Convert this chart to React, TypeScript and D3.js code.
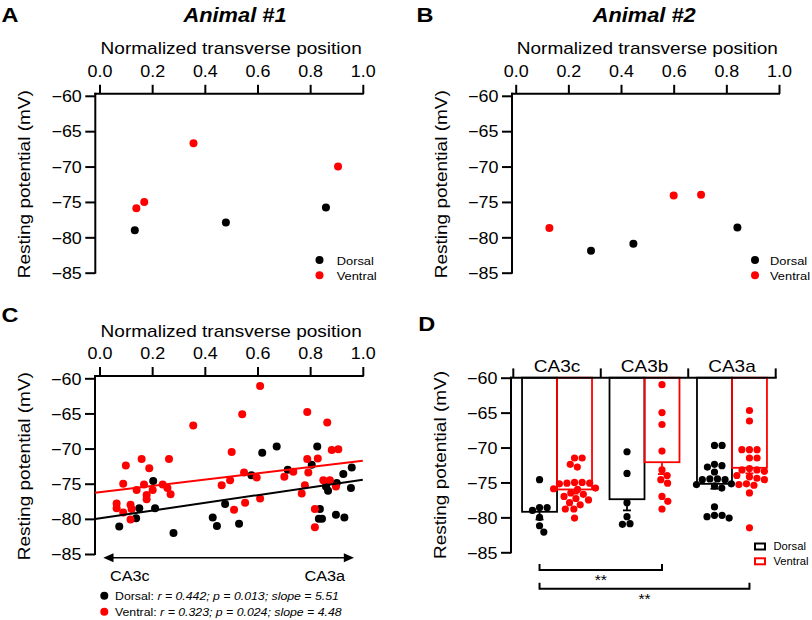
import { useEffect, useRef } from "react";
import * as d3 from "d3";

type Pt = [number, number];

const FONT = "'Liberation Sans', Arial, Helvetica, sans-serif";
const SX = 1.12; // reference glyphs are a bit wider than Arial
const RED = "#ff0000";
const BLACK = "#000000";

const xTicks = [0, 0.2, 0.4, 0.6, 0.8, 1.0];
const yTicks = [-60, -65, -70, -75, -80, -85];

// A / B: single animals
const animal1Dorsal: Pt[] = [[0.134, -79.0], [0.48, -77.9], [0.86, -75.8]];
const animal1Ventral: Pt[] = [[0.14, -75.9], [0.17, -75.0], [0.357, -66.7], [0.906, -70.0]];
const animal2Dorsal: Pt[] = [[0.286, -81.9], [0.447, -80.9], [0.842, -78.6]];
const animal2Ventral: Pt[] = [[0.128, -78.7], [0.6, -74.1], [0.704, -74.0]];

// C: pooled cells
const pooledDorsal: Pt[] = [
  [0.075, -81.1], [0.139, -79.9], [0.151, -78.5], [0.204, -74.6], [0.211, -78.5],
  [0.281, -82.0], [0.43, -79.8], [0.446, -81.0], [0.477, -77.9], [0.53, -80.7],
  [0.577, -73.8], [0.618, -70.6], [0.673, -69.7], [0.715, -73.0], [0.806, -72.3],
  [0.827, -69.7], [0.837, -78.6], [0.833, -80.0], [0.845, -80.0], [0.86, -75.4],
  [0.868, -76.0], [0.901, -74.9], [0.898, -79.4], [0.93, -79.8], [0.926, -73.6],
  [0.958, -72.7], [0.955, -75.6],
];
const pooledVentral: Pt[] = [
  [0.065, -77.8], [0.065, -78.5], [0.09, -79.1], [0.118, -78.0], [0.122, -78.6],
  [0.118, -80.1], [0.1, -72.4], [0.09, -75.0], [0.141, -75.9], [0.16, -71.5],
  [0.169, -75.1], [0.179, -76.6], [0.179, -77.2], [0.189, -72.8], [0.202, -75.9],
  [0.24, -75.1], [0.258, -75.6], [0.264, -71.5], [0.27, -76.5], [0.356, -66.7],
  [0.464, -75.2], [0.496, -74.5], [0.502, -70.5], [0.511, -78.7], [0.542, -65.1],
  [0.549, -73.4], [0.553, -77.7], [0.597, -74.1], [0.61, -61.1], [0.61, -77.1],
  [0.702, -74.0], [0.736, -73.3], [0.768, -76.4], [0.78, -75.2], [0.789, -64.8],
  [0.789, -71.5], [0.793, -73.4], [0.829, -71.4], [0.818, -78.6], [0.818, -81.2],
  [0.865, -66.3], [0.85, -74.5], [0.875, -74.5], [0.882, -70.2], [0.907, -70.1],
  [0.898, -75.4],
];
const dorsalSlope = 5.51;
const dorsalIntercept = -79.93;
const ventralSlope = 4.48;
const ventralIntercept = -76.2;
const dorsalStats = "r = 0.442; p = 0.013; slope = 5.51";
const ventralStats = "r = 0.323; p = 0.024; slope = 4.48";

// D: by region
const regions = ["CA3c", "CA3b", "CA3a"];
const groups = ["Dorsal", "Ventral"];
const dorsalMean = [-79.2, -77.4, -75.2];
const dorsalSem = [1.1, 1.6, 0.7];
const ventralMean = [-76.0, -72.1, -72.9];
const ventralSem = [0.6, 1.7, 0.8];
const dorsalCells = [
  [-74.6, -79.0, -78.6, -78.6, -80.0, -81.2, -82.1],
  [-70.6, -73.7, -77.9, -79.9, -81.0, -80.9],
  [-69.7, -69.7, -72.4, -72.6, -72.8, -73.5, -74.5, -74.5, -74.6, -74.6, -75.2, -75.3,
    -75.5, -75.8, -78.5, -79.7, -79.7, -79.9, -80.1],
];
const ventralCells = [
  [-71.5, -71.5, -72.4, -72.8, -75.0, -75.0, -75.1, -75.1, -75.2, -75.8, -75.9, -76.0,
    -76.5, -76.7, -77.0, -77.3, -77.5, -77.9, -78.2, -78.8, -78.8, -80.1],
  [-61.0, -65.0, -66.7, -70.5, -73.2, -74.0, -74.6, -75.1, -77.0, -77.7, -78.8],
  [-64.7, -66.2, -70.3, -70.3, -70.3, -71.5, -71.5, -73.0, -73.2, -73.2, -73.4, -74.0,
    -74.2, -74.4, -74.6, -75.2, -75.3, -75.4, -76.5, -81.5],
];
const sigFrom = [["CA3c", "Dorsal"], ["CA3c", "Dorsal"]];
const sigTo = [["CA3b", "Ventral"], ["CA3a", "Ventral"]];
const sigLabels = ["**", "**"];

type Sel = d3.Selection<any, unknown, null, undefined>;

function addText(
  g: Sel,
  x: number,
  y: number,
  str: string,
  size: number,
  opts: { anchor?: string; weight?: string; italic?: boolean; rotate?: boolean; sx?: number } = {}
) {
  return g
    .append("text")
    .attr(
      "transform",
      `translate(${x},${y})${opts.rotate ? " rotate(-90)" : ""} scale(${opts.sx ?? SX},1)`
    )
    .attr("font-family", FONT)
    .attr("font-size", size)
    .attr("font-weight", opts.weight ?? "normal")
    .attr("font-style", opts.italic ? "italic" : "normal")
    .attr("text-anchor", opts.anchor ?? "start")
    .attr("fill", BLACK)
    .text(str);
}

function yAxis(g: Sel, ys: d3.ScaleLinear<number, number>, axisX: number, axisTop: number) {
  const ax = g
    .append("g")
    .attr("transform", `translate(${axisX},0)`)
    .call(d3.axisLeft(ys).tickValues(yTicks).tickSize(10).tickSizeOuter(0));
  ax.select(".domain").remove();
  ax.selectAll(".tick line").attr("stroke-width", 2);
  ax.selectAll(".tick text")
    .attr("x", null)
    .attr("dy", "0.36em")
    .attr("transform", `translate(-13.5,0) scale(${SX},1)`)
    .attr("font-size", 16)
    .attr("font-family", FONT);
  ax.append("line")
    .attr("x1", 0)
    .attr("x2", 0)
    .attr("y1", axisTop)
    .attr("y2", ys(-85))
    .attr("stroke", BLACK)
    .attr("stroke-width", 2)
    .attr("stroke-linecap", "square");
  addText(g, axisX - 65, (ys(-60) + ys(-85)) / 2, "Resting potential (mV)", 17, {
    anchor: "middle",
    rotate: true,
  });
}

function scatterPanel(
  svg: Sel,
  cfg: {
    xRange: [number, number];
    yRange: [number, number];
    axisX: number;
    axisY: number;
    series: { pts: Pt[]; color: string }[];
  }
) {
  const g = svg.append("g");
  const xs = d3.scaleLinear().domain([0, 1]).range(cfg.xRange);
  const ys = d3.scaleLinear().domain([-60, -85]).range(cfg.yRange);

  const xa = g
    .append("g")
    .attr("transform", `translate(0,${cfg.axisY})`)
    .call(
      d3.axisTop(xs).tickValues(xTicks).tickSize(9).tickPadding(8).tickFormat(d3.format(".1f"))
    );
  xa.select(".domain").remove();
  xa.selectAll(".tick line").attr("stroke-width", 2);
  xa.selectAll(".tick text")
    .attr("transform", `scale(${SX},1)`)
    .attr("font-size", 16)
    .attr("font-family", FONT);
  xa.append("line")
    .attr("x1", cfg.axisX)
    .attr("x2", xs(1))
    .attr("stroke", BLACK)
    .attr("stroke-width", 2)
    .attr("stroke-linecap", "square");
  addText(g, (cfg.xRange[0] + cfg.xRange[1]) / 2, cfg.axisY - 39.5, "Normalized transverse position", 17, {
    anchor: "middle",
  });

  yAxis(g, ys, cfg.axisX, cfg.axisY);

  const dots = g.append("g");
  cfg.series.forEach((s) => {
    dots
      .selectAll(null)
      .data(s.pts)
      .join("circle")
      .attr("cx", (d) => xs(d[0]))
      .attr("cy", (d) => ys(d[1]))
      .attr("r", 4)
      .attr("fill", s.color);
  });
  return { g, xs, ys };
}

function dotLegend(g: Sel, x: number, y: number, textX: number, size: number) {
  [BLACK, RED].forEach((c, i) => {
    g.append("circle").attr("cx", x).attr("cy", y + i * 15.3).attr("r", 4).attr("fill", c);
    addText(g, textX, y + i * 15.3 + 4.5, groups[i], size);
  });
}

function swarm(values: number[], cx: number, ys: d3.ScaleLinear<number, number>, r: number) {
  const D = 2 * r + 0.4;
  const placed: { x: number; y: number }[] = [];
  [...values]
    .sort((a, b) => b - a)
    .forEach((v) => {
      const y = ys(v);
      const near = placed.filter((p) => Math.abs(p.y - y) < D);
      const cands = [0];
      near.forEach((p) => {
        const dx = Math.sqrt(D * D - (p.y - y) ** 2);
        cands.push(p.x - cx + dx, p.x - cx - dx);
      });
      cands.sort((a, b) => Math.abs(a) - Math.abs(b) || b - a);
      const off =
        cands.find((c) => near.every((p) => (p.x - cx - c) ** 2 + (p.y - y) ** 2 >= D * D - 0.01)) ?? 0;
      placed.push({ x: cx + off, y });
    });
  return placed;
}

export default function App() {
  const ref = useRef<SVGSVGElement>(null);

  useEffect(() => {
    if (!ref.current) return;
    const svg = d3.select(ref.current);
    svg.selectAll("*").remove();
    svg.append("rect").attr("width", 812).attr("height", 620).attr("fill", "#fff");

    // ---- A
    const a = scatterPanel(svg, {
      xRange: [99.5, 362.8],
      yRange: [95.8, 272.7],
      axisX: 95.3,
      axisY: 93.8,
      series: [
        { pts: animal1Dorsal, color: BLACK },
        { pts: animal1Ventral, color: RED },
      ],
    });
    addText(a.g, 1.5, 21.7, "A", 21, { weight: "bold" });
    addText(a.g, 235, 21.7, "Animal #1", 19.5, { weight: "bold", italic: true, anchor: "middle" });
    dotLegend(a.g, 319.5, 260, 336.7, 11.5);

    // ---- B
    const b = scatterPanel(svg, {
      xRange: [515.7, 779],
      yRange: [95.8, 272.7],
      axisX: 512,
      axisY: 93.8,
      series: [
        { pts: animal2Dorsal, color: BLACK },
        { pts: animal2Ventral, color: RED },
      ],
    });
    addText(b.g, 416.5, 21.7, "B", 21, { weight: "bold" });
    addText(b.g, 644.2, 21.7, "Animal #2", 19.5, { weight: "bold", italic: true, anchor: "middle" });
    dotLegend(b.g, 755, 260, 770, 11.5);

    // ---- C
    const c = scatterPanel(svg, {
      xRange: [99.5, 362.8],
      yRange: [378.3, 554],
      axisX: 95,
      axisY: 376,
      series: [
        { pts: pooledDorsal, color: BLACK },
        { pts: pooledVentral, color: RED },
      ],
    });
    addText(c.g, 1.5, 321.7, "C", 21, { weight: "bold" });
    const x0 = c.xs.invert(95);
    [
      { slope: ventralSlope, intercept: ventralIntercept, color: RED },
      { slope: dorsalSlope, intercept: dorsalIntercept, color: BLACK },
    ].forEach((f) => {
      c.g
        .append("line")
        .attr("x1", c.xs(x0))
        .attr("y1", c.ys(f.intercept + f.slope * x0))
        .attr("x2", c.xs(1))
        .attr("y2", c.ys(f.intercept + f.slope))
        .attr("stroke", f.color)
        .attr("stroke-width", 2);
    });
    // double-headed arrow
    const ay = 557.7;
    c.g.append("line").attr("x1", 108).attr("x2", 349).attr("y1", ay).attr("y2", ay)
      .attr("stroke", BLACK).attr("stroke-width", 1.6);
    c.g.append("path").attr("d", `M103.3,${ay} L113.5,${ay - 4.5} L113.5,${ay + 4.5} Z`).attr("fill", BLACK);
    c.g.append("path").attr("d", `M354,${ay} L343.8,${ay - 4.5} L343.8,${ay + 4.5} Z`).attr("fill", BLACK);
    addText(c.g, 110, 581, "CA3c", 14.5);
    addText(c.g, 345, 581, "CA3a", 14.5, { anchor: "end" });
    [
      { color: BLACK, name: "Dorsal: ", stats: dorsalStats },
      { color: RED, name: "Ventral: ", stats: ventralStats },
    ].forEach((l, i) => {
      const y = 595.7 + i * 16;
      c.g.append("circle").attr("cx", 104.3).attr("cy", y).attr("r", 4).attr("fill", l.color);
      const t = addText(c.g, 115, y + 4.3, "", 11);
      t.append("tspan").text(l.name);
      t.append("tspan").attr("font-style", "italic").text(l.stats);
    });

    // ---- D
    const d = svg.append("g");
    const ys = d3.scaleLinear().domain([-60, -85]).range([377.7, 552.3]);
    const gx = d3.scaleBand().domain(regions).range([513.3, 775.7]).padding(0);
    const sx = d3.scaleBand().domain(groups).range([0, gx.bandwidth()]).paddingInner(0).paddingOuter(0.25);
    const means = [dorsalMean, ventralMean];
    const sems = [dorsalSem, ventralSem];
    const cells = [dorsalCells, ventralCells];
    const colors = [BLACK, RED];
    const center = (r: string, grp: string) => (gx(r) ?? 0) + (sx(grp) ?? 0) + sx.bandwidth() / 2;

    regions.forEach((r, ri) => {
      groups.forEach((grp, gi) => {
        const x = (gx(r) ?? 0) + (sx(grp) ?? 0);
        const m = means[gi][ri];
        d.append("rect")
          .attr("x", x)
          .attr("y", ys(-60))
          .attr("width", sx.bandwidth())
          .attr("height", ys(m) - ys(-60))
          .attr("fill", "none")
          .attr("stroke", colors[gi])
          .attr("stroke-width", 1.8);
        const cx = center(r, grp);
        const lo = ys(m - sems[gi][ri]);
        d.append("line").attr("x1", cx).attr("x2", cx).attr("y1", ys(m)).attr("y2", lo)
          .attr("stroke", colors[gi]).attr("stroke-width", 1.8);
        d.append("line").attr("x1", cx - 4).attr("x2", cx + 4).attr("y1", lo).attr("y2", lo)
          .attr("stroke", colors[gi]).attr("stroke-width", 1.8);
        d.selectAll(null)
          .data(swarm(cells[gi][ri], cx, ys, 3.6))
          .join("circle")
          .attr("cx", (p) => p.x)
          .attr("cy", (p) => p.y)
          .attr("r", 3.6)
          .attr("fill", colors[gi]);
      });
    });

    // top category axis
    const top = ys(-60);
    d.append("line").attr("x1", 511).attr("x2", gx.range()[1]).attr("y1", top).attr("y2", top)
      .attr("stroke", BLACK).attr("stroke-width", 2).attr("stroke-linecap", "square");
    [...regions.map((r) => gx(r) ?? 0), gx.range()[1]].forEach((bx) => {
      d.append("line").attr("x1", bx).attr("x2", bx).attr("y1", top).attr("y2", top - 9.3)
        .attr("stroke", BLACK).attr("stroke-width", 2);
    });
    regions.forEach((r) => {
      addText(d, (gx(r) ?? 0) + gx.bandwidth() / 2, top - 6, r, 17, { anchor: "middle" });
    });
    yAxis(d, ys, 511, top);
    addText(d, 418.3, 331, "D", 21, { weight: "bold" });

    // significance brackets
    sigLabels.forEach((lab, i) => {
      const y = ys(-85) + 17.7 + i * 18.7;
      const x1 = center(sigFrom[i][0], sigFrom[i][1]);
      const x2 = center(sigTo[i][0], sigTo[i][1]);
      d.append("path")
        .attr("d", `M${x1},${y - 6} L${x1},${y} L${x2},${y} L${x2},${y - 6}`)
        .attr("fill", "none")
        .attr("stroke", BLACK)
        .attr("stroke-width", 2);
      addText(d, (x1 + x2) / 2, y + 15, lab, 14, { anchor: "middle" });
    });

    // legend
    groups.forEach((grp, i) => {
      d.append("rect")
        .attr("x", 755)
        .attr("y", 543.5 + i * 14.8)
        .attr("width", 10)
        .attr("height", 6)
        .attr("fill", "none")
        .attr("stroke", colors[i])
        .attr("stroke-width", 2);
      addText(d, 773.5, 549.5 + i * 15.3, grp, 11, { sx: 1.02 });
    });
  }, []);

  return (
    <svg
      ref={ref}
      width={812}
      height={620}
      style={{ position: "absolute", left: 0, top: 0 }}
    />
  );
}
